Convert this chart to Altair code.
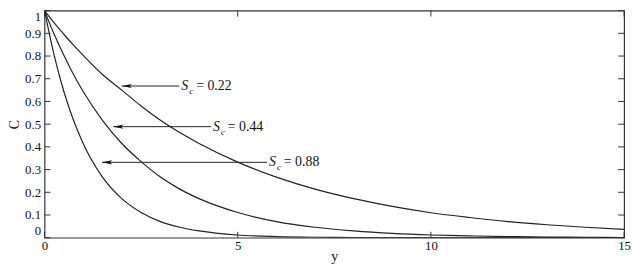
import altair as alt
import pandas as pd

# distance values along the x axis (y)
y_vals = [0, 0.25, 0.5, 0.75, 1, 1.5, 2, 2.5, 3, 3.5, 4, 5, 6, 7, 8, 9, 10, 11, 12, 13, 14, 15]
# concentration C
c_022 = [1.0, 0.946, 0.896, 0.848, 0.803, 0.719, 0.650, 0.580, 0.517, 0.463, 0.415, 0.333, 0.267, 0.214, 0.172, 0.138, 0.110, 0.089, 0.071, 0.057, 0.046, 0.037]
c_044 = [1.0, 0.896, 0.803, 0.719, 0.644, 0.517, 0.415, 0.335, 0.267, 0.214, 0.172, 0.111, 0.071, 0.046, 0.030, 0.019, 0.012, 0.008, 0.005, 0.003, 0.002, 0.001]
c_088 = [1.0, 0.803, 0.644, 0.517, 0.415, 0.267, 0.172, 0.111, 0.071, 0.046, 0.030, 0.012, 0.005, 0.002, 0.001, 0.0, 0.0, 0.0, 0.0, 0.0, 0.0, 0.0]
series_names = ["0.22", "0.44", "0.88"]

# annotations: arrow tail/tip (data units) and label values
ann_label = ["0.22", "0.44", "0.88"]
ann_tip_x = [2.0, 1.78, 1.49]
ann_tail_x = [3.49, 4.31, 5.76]
ann_c = [0.668, 0.489, 0.332]

x_ticks = [0, 5, 10, 15]
y_ticks = [0, 0.1, 0.2, 0.3, 0.4, 0.5, 0.6, 0.7, 0.8, 0.9, 1.0]

rows = []
for name, vals in zip(series_names, [c_022, c_044, c_088]):
    for x, c in zip(y_vals, vals):
        rows.append({"y": x, "C": c, "Sc": name})
df = pd.DataFrame(rows)

ann = pd.DataFrame({
    "label": ann_label, "tip": ann_tip_x, "tail": ann_tail_x, "C": ann_c,
    "rest": ["= " + s for s in ann_label],
})

FONT = "Times New Roman, Liberation Serif, DejaVu Serif, serif"
W, H = 587, 230

xs = alt.Scale(domain=[0, 15], nice=False, zero=False)
ys = alt.Scale(domain=[0, 1], nice=False)

ax_x = alt.Axis(values=x_ticks, title="y", ticks=False, domain=False, grid=False,
                labelPadding=2, titlePadding=-3, labelFlush=False, labelOverlap=False)
ax_y = alt.Axis(values=y_ticks, title="C", format="~g", ticks=False, domain=False, grid=False,
                labelPadding=4, titlePadding=3, labelOverlap=False, labelFlush=True,
                labelFlushOffset=0)


def X(f):
    return alt.X(f, scale=xs, axis=ax_x, title="y")


def Y(f):
    return alt.Y(f, scale=ys, axis=ax_y, title="C")


lines = alt.Chart(df).mark_line(color="#222222", strokeWidth=1.2, interpolate="monotone", clip=True).encode(
    x=X("y:Q"), y=Y("C:Q"), detail="Sc:N",
)

arrow_line = alt.Chart(ann).mark_rule(color="#222222", strokeWidth=1).encode(
    x=X("tip:Q"), x2="tail:Q", y=Y("C:Q")
)
arrow_head = alt.Chart(ann).mark_point(
    shape="M-1,0L1,-0.4L0.55,0L1,0.4Z", filled=True, color="#111111", size=110, opacity=1,
    xOffset=5,
).encode(x=X("tip:Q"), y=Y("C:Q"))

txt_S = alt.Chart(ann).mark_text(font=FONT, fontSize=14, fontStyle="italic", align="left",
                                 baseline="middle", dx=2, color="#111111").encode(
    x=X("tail:Q"), y=Y("C:Q"), text=alt.value("S"))
txt_c = alt.Chart(ann).mark_text(font=FONT, fontSize=9, fontStyle="italic", align="left",
                                 baseline="middle", dx=10, dy=5, color="#111111").encode(
    x=X("tail:Q"), y=Y("C:Q"), text=alt.value("c"))
txt_rest = alt.Chart(ann).mark_text(font=FONT, fontSize=14, align="left",
                                    baseline="middle", dx=17, color="#111111").encode(
    x=X("tail:Q"), y=Y("C:Q"), text="rest:N")

xt = pd.DataFrame({"t": x_ticks})
yt = pd.DataFrame({"t": y_ticks})
tick_style = dict(color="#333333", strokeWidth=1)
left_ticks = alt.Chart(yt).mark_rule(**tick_style).encode(
    y=Y("t:Q"), x=alt.value(0), x2=alt.value(6))
right_ticks = alt.Chart(yt).mark_rule(**tick_style).encode(
    y=Y("t:Q"), x=alt.value(W), x2=alt.value(W - 6))
bottom_ticks = alt.Chart(xt).mark_rule(**tick_style).encode(
    x=X("t:Q"), y=alt.value(H), y2=alt.value(H - 6))
top_ticks = alt.Chart(xt).mark_rule(**tick_style).encode(
    x=X("t:Q"), y=alt.value(0), y2=alt.value(6))

chart = alt.layer(
    lines, left_ticks, right_ticks, bottom_ticks, top_ticks,
    arrow_line, arrow_head, txt_S, txt_c, txt_rest,
).properties(
    width=W, height=H,
    autosize=alt.AutoSizeParams(type="none"),
    padding={"left": 37, "top": 1, "right": 8, "bottom": 28},
    background="white",
).configure_view(
    stroke="#333333", strokeWidth=1.2
).configure_axis(
    labelFont=FONT, titleFont=FONT, labelFontSize=13, titleFontSize=14,
    labelColor="#111111", titleColor="#111111", titleFontWeight="normal",
)

chart.save("out.html", embed_options={"renderer": "svg", "actions": False})
